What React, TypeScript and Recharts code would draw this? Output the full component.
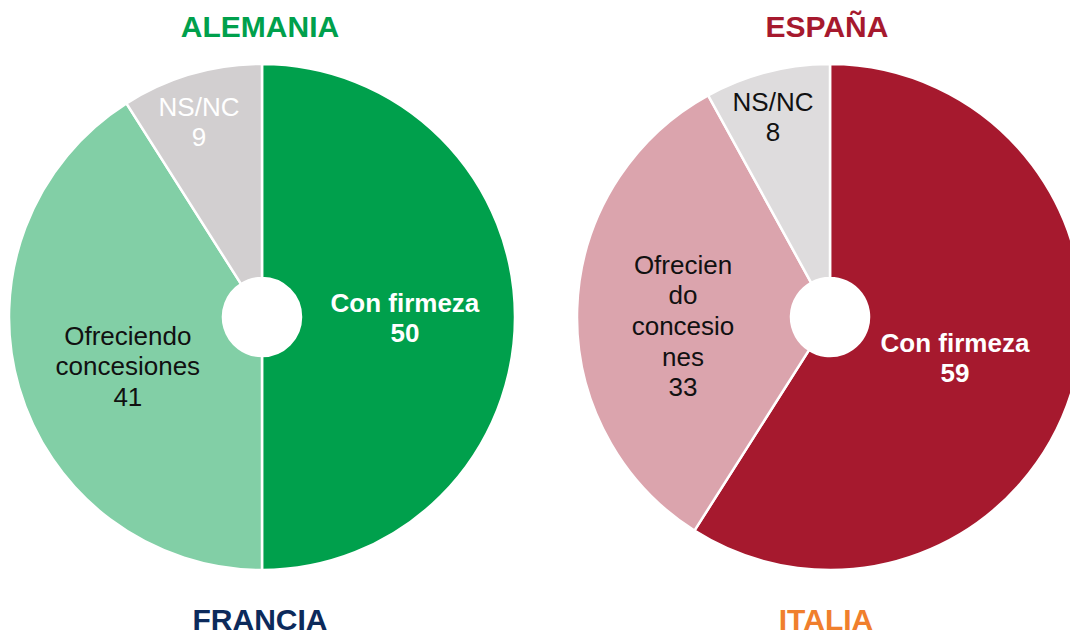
import { Cell, Pie, PieChart } from 'recharts';

const sliceNames = ['Con firmeza', 'Ofreciendo concesiones', 'NS/NC'];
const alemaniaValues = [50, 41, 9];
const espanaValues = [59, 33, 8];
const alemaniaLabels = [['Con firmeza'], ['Ofreciendo', 'concesiones'], ['NS/NC']];
const espanaLabels = [['Con firmeza'], ['Ofrecien', 'do', 'concesio', 'nes'], ['NS/NC']];
const titles = ['ALEMANIA', 'ESPAÑA', 'FRANCIA', 'ITALIA'];

const alemaniaColors = ['#00A04C', '#82CFA6', '#D2CFD0'];
const espanaColors = ['#A6192E', '#DBA4AD', '#DEDCDD'];

type LabelStyle = { fill: string; weight: number; radius: number; shift: number };

// label placement inside each slice: radius as share of outer radius, angle shift in degrees
const alemaniaText: LabelStyle[] = [
  { fill: '#fff', weight: 700, radius: 0.565, shift: -0.4 },
  { fill: '#111', weight: 400, radius: 0.565, shift: 4 },
  { fill: '#fff', weight: 400, radius: 0.81, shift: 1.7 },
];
const espanaText: LabelStyle[] = [
  { fill: '#fff', weight: 700, radius: 0.52, shift: -2 },
  { fill: '#111', weight: 400, radius: 0.582, shift: 5.3 },
  { fill: '#111', weight: 400, radius: 0.822, shift: 1.5 },
];

const RAD = Math.PI / 180;
const FONT = "'Liberation Sans', Arial, sans-serif";

const makeLabel =
  (lines: string[][], styles: LabelStyle[]) =>
  (props: any) => {
    const { cx, cy, midAngle, outerRadius, index, value } = props;
    const s = styles[index];
    const r = outerRadius * s.radius;
    const a = (midAngle + s.shift) * RAD;
    const x = cx + r * Math.cos(-a);
    const y = cy + r * Math.sin(-a);
    const all = [...lines[index], String(value)];
    const lh = 30.7;
    const top = y - ((all.length - 1) * lh) / 2;
    return (
      <text
        key={`l-${index}`}
        textAnchor='middle'
        dominantBaseline='central'
        fill={s.fill}
        fontWeight={s.weight}
        fontSize={26}
        fontFamily={FONT}>
        {all.map((t, i) => (
          <tspan key={i} x={x} y={top + i * lh}>
            {t}
          </tspan>
        ))}
      </text>
    );
  };

const toData = (values: number[]) =>
  sliceNames.map((name, i) => ({ name, value: values[i] }));

const titleStyle = (color: string, left: number, top: number) => ({
  position: 'absolute' as const,
  left: left - 150,
  top,
  width: 300,
  textAlign: 'center' as const,
  color,
  fontFamily: FONT,
  fontWeight: 700,
  fontSize: 30,
  lineHeight: '30px',
});

export default function App() {
  return (
    <div
      style={{
        position: 'absolute',
        left: 0,
        top: 0,
        width: 1070,
        height: 635,
        overflow: 'hidden',
        background: '#fff',
      }}>
      <PieChart
        width={1100}
        height={635}
        margin={{ top: 0, right: 0, bottom: 0, left: 0 }}>
        <Pie
          data={toData(alemaniaValues)}
          dataKey='value'
          nameKey='name'
          cx={262}
          cy={317}
          innerRadius={39}
          outerRadius={253}
          startAngle={90}
          endAngle={-270}
          stroke='#fff'
          strokeWidth={2.5}
          labelLine={false}
          label={makeLabel(alemaniaLabels, alemaniaText)}
          isAnimationActive={false}>
          {alemaniaValues.map((_, i) => (
            <Cell key={i} fill={alemaniaColors[i]} />
          ))}
        </Pie>
        <Pie
          data={toData(espanaValues)}
          dataKey='value'
          nameKey='name'
          cx={830}
          cy={317}
          innerRadius={39}
          outerRadius={253}
          startAngle={90}
          endAngle={-270}
          stroke='#fff'
          strokeWidth={2.5}
          labelLine={false}
          label={makeLabel(espanaLabels, espanaText)}
          isAnimationActive={false}>
          {espanaValues.map((_, i) => (
            <Cell key={i} fill={espanaColors[i]} />
          ))}
        </Pie>
      </PieChart>
      <div style={titleStyle('#00A04C', 260, 12)}>{titles[0]}</div>
      <div style={titleStyle('#A6192E', 827, 12)}>{titles[1]}</div>
      <div style={titleStyle('#0C2A5B', 260, 605)}>{titles[2]}</div>
      <div style={titleStyle('#F07F2D', 826, 605)}>{titles[3]}</div>
    </div>
  );
}
